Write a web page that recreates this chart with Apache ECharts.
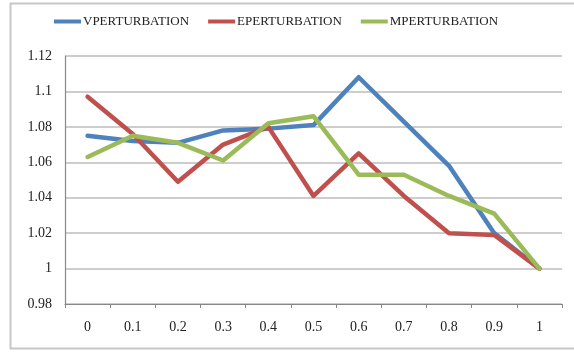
<!DOCTYPE html>
<html><head><meta charset="utf-8">
<script src="https://cdn.jsdelivr.net/npm/echarts@6/dist/echarts.min.js"></script>
<style>html,body{margin:0;padding:0;background:#fff}#c{width:574px;height:352px}</style>
</head><body><div id="c"></div>
<script>
var categories = ['0','0.1','0.2','0.3','0.4','0.5','0.6','0.7','0.8','0.9','1'];
var vPerturbation = [1.075, 1.072, 1.071, 1.078, 1.079, 1.081, 1.108, 1.083, 1.058, 1.020, 1.000];
var ePerturbation = [1.097, 1.076, 1.049, 1.070, 1.080, 1.041, 1.065, 1.041, 1.020, 1.019, 1.000];
var mPerturbation = [1.063, 1.075, 1.071, 1.061, 1.082, 1.086, 1.053, 1.053, 1.041, 1.031, 1.000];
var seriesNames = ['VPERTURBATION','EPERTURBATION','MPERTURBATION'];
var colors = ['#4F81BD','#C0504D','#9BBB59'];
var chart = echarts.init(document.getElementById('c'));
var font = 'Liberation Serif';
function mk(name, data, color){
  return {name:name, type:'line', data:data, symbol:'none', smooth:false,
    lineStyle:{width:4.5, color:color, cap:'round', join:'round'}, itemStyle:{color:color}};
}
chart.setOption({
  animation:false,
  backgroundColor:'#fff',
  graphic:[{type:'rect', shape:{x:10.5,y:3.5,width:570,height:345}, style:{fill:'none', stroke:'#c8c8c8', lineWidth:2}, z:-1}],
  legend:{
    data:seriesNames, top:10, left:49, itemWidth:27, itemHeight:4, itemGap:19, icon:'rect',
    textStyle:{fontFamily:font, fontSize:13, color:'#222', padding:[0,0,0,-3]}
  },
  grid:{left:65, right:12, top:56, bottom:48, containLabel:false},
  xAxis:{type:'category', data:categories, boundaryGap:true,
    axisLine:{lineStyle:{color:'#888', width:1.2}},
    axisTick:{show:true, length:4, lineStyle:{color:'#888'}},
    axisLabel:{fontFamily:font, fontSize:14, color:'#222', margin:16}},
  yAxis:{type:'value', min:0.98, max:1.12, interval:0.02,
    axisLine:{show:true, lineStyle:{color:'#888', width:1.2}},
    axisTick:{show:false},
    splitLine:{lineStyle:{color:'#bdbdbd', width:1.5}},
    axisLabel:{fontFamily:font, fontSize:14, color:'#222', margin:13,
      formatter:function(v){return String(parseFloat(v.toFixed(2)));}}},
  series:[mk(seriesNames[0], vPerturbation, colors[0]), mk(seriesNames[1], ePerturbation, colors[1]), mk(seriesNames[2], mPerturbation, colors[2])]
});
</script></body></html>
